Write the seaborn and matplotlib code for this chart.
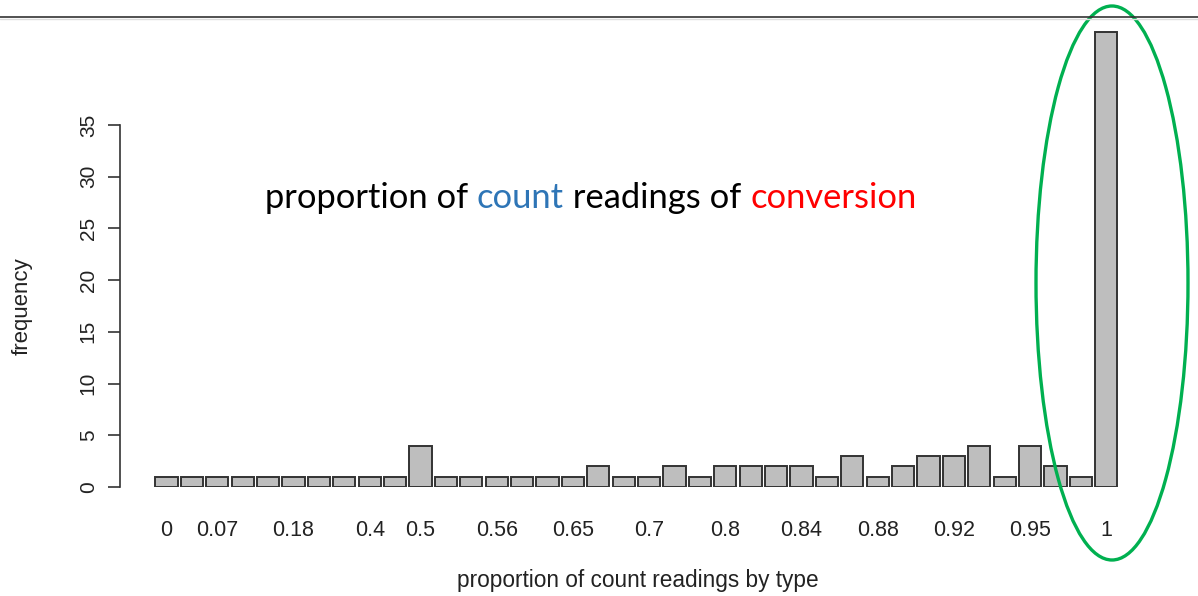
import numpy as np
import pandas as pd
import matplotlib.pyplot as plt
import seaborn as sns
from matplotlib.patches import Ellipse
from matplotlib.lines import Line2D

# frequency of each observed proportion value (38 bars, left to right)
frequency = [1, 1, 1, 1, 1, 1, 1, 1, 1, 1,
             4, 1, 1, 1, 1, 1, 1, 2, 1, 1,
             2, 1, 2, 2, 2, 2, 1, 3, 1, 2,
             3, 3, 4, 1, 4, 2, 1, 44]

# only these bars get a label (R drops the ones that would overlap)
label_bars = [0, 2, 5, 8, 10, 13, 16, 19, 22, 25, 28, 31, 34, 37]
tick_labels = ["0", "0.07", "0.18", "0.4", "0.5", "0.56", "0.65",
               "0.7", "0.8", "0.84", "0.88", "0.92", "0.95", "1"]

df = pd.DataFrame({"bar": np.arange(len(frequency)), "frequency": frequency})

sns.set_style("white")
plt.rcParams['font.family'] = ['Liberation Sans', 'DejaVu Sans']

W, H = 1198, 596
fig = plt.figure(figsize=(W / 100, H / 100), dpi=100)

# axes placed in pixel terms: y=0 at 487px, 10.343 px per unit
px_per_unit = 10.343
y_top = 45
ax_left, ax_right = 120, 1150
ax_bottom_px = 487
ax_top_px = ax_bottom_px - y_top * px_per_unit
ax = fig.add_axes([ax_left / W, (H - ax_bottom_px) / H,
                   (ax_right - ax_left) / W, (ax_bottom_px - ax_top_px) / H])

sns.barplot(data=df, x="bar", y="frequency", color="#BEBEBE", saturation=1,
            edgecolor="#333333", linewidth=1.4, width=0.88, ax=ax)

pitch = 25.4
first_center = 166.5
ax.set_xlim((ax_left - first_center) / pitch, (ax_right - first_center) / pitch)
ax.set_ylim(0, y_top)

for s in ["top", "right", "bottom"]:
    ax.spines[s].set_visible(False)
ax.spines["left"].set_bounds(0, 35)
ax.spines["left"].set_color("#333333")
ax.spines["left"].set_linewidth(1.2)

ax.set_yticks(range(0, 36, 5))
ax.tick_params(axis="y", direction="out", length=9, width=1.2, color="#333333",
               pad=7, labelsize=15, labelcolor="#222222", left=True)
for lab in ax.get_yticklabels():
    lab.set_rotation(90)
    lab.set_va("center")

ax.set_xticks(label_bars)
ax.set_xticklabels(tick_labels)
ax.tick_params(axis="x", length=0, pad=24, labelsize=15.5, labelcolor="#222222")
ax.set_xlabel("")
ax.set_ylabel("")

fig.text(638 / W, 1 - 580 / H, "proportion of count readings by type",
         ha="center", va="center", fontsize=16.3, color="#222222")
fig.text(22 / W, 1 - 306 / H, "frequency", rotation=90,
         ha="center", va="center", fontsize=16, color="#222222")

# coloured headline inside the plot
hfont = dict(fontsize=24.8, family=["Lato", "DejaVu Sans"])
t1 = fig.text(265 / W, 1 - 208 / H, "proportion of ", color="black",
              va="baseline", **hfont)
t2 = ax.annotate("count", xy=(1, 0), xycoords=t1, color="#2E75B6",
                 va="bottom", **hfont)
t3 = ax.annotate(" readings of ", xy=(1, 0), xycoords=t2, color="black",
                 va="bottom", **hfont)
ax.annotate("conversion", xy=(1, 0), xycoords=t3, color="#FF0000",
            va="bottom", **hfont)

# slide separator line at the top
fig.add_artist(Line2D([0, 1], [1 - 17 / H, 1 - 17 / H], color="#333333", lw=1.2))
fig.add_artist(Line2D([0, 1], [1 - 19 / H, 1 - 19 / H], color="#DDDDDD", lw=1))

# green ellipse around the last bar
fig.add_artist(Ellipse((1112 / W, 1 - 283 / H), 152 / W, 554 / H,
                       fill=False, edgecolor="#00B050", lw=2.4,
                       transform=fig.transFigure))

fig.savefig("out.png", dpi=100)
